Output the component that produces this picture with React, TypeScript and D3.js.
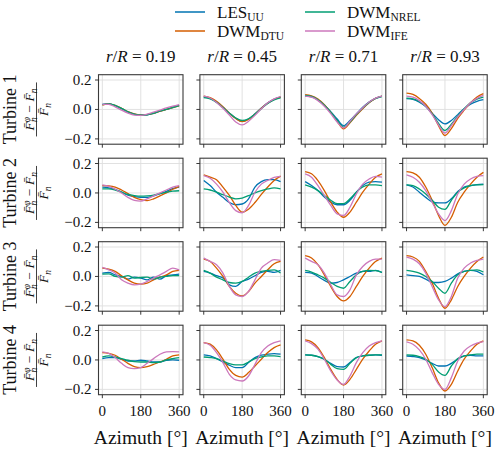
import { useEffect, useRef } from 'react';
import * as d3 from 'd3';

const azimuth = [0, 30, 60, 90, 120, 150, 180, 210, 240, 270, 300, 330, 360];
const radii = ['0.19', '0.45', '0.71', '0.93'];
const turbines = ['Turbine 1', 'Turbine 2', 'Turbine 3', 'Turbine 4'];
const xTicks = [0, 180, 360];
const yTicks = [-0.2, 0, 0.2];

// [turbine][radius][azimuth]
const lesUU = [
  [
    [0.035, 0.04, 0.025, 0.005, -0.018, -0.033, -0.038, -0.036, -0.025, -0.012, 0.0, 0.015, 0.028],
    [0.085, 0.075, 0.05, 0.015, -0.025, -0.06, -0.08, -0.065, -0.03, 0.01, 0.045, 0.07, 0.085],
    [0.09, 0.085, 0.065, 0.03, -0.015, -0.065, -0.11, -0.075, -0.03, 0.015, 0.05, 0.075, 0.09],
    [0.073, 0.068, 0.05, 0.02, -0.025, -0.07, -0.098, -0.075, -0.035, 0.005, 0.035, 0.055, 0.066],
  ],
  [
    [0.04, 0.035, 0.025, 0.005, -0.015, -0.025, -0.03, -0.03, -0.02, -0.005, 0.01, 0.03, 0.04],
    [0.085, 0.05, 0.005, -0.03, -0.065, -0.08, -0.075, -0.04, 0.04, 0.077, 0.09, 0.09, 0.077],
    [0.077, 0.05, 0.016, -0.028, -0.063, -0.08, -0.08, -0.05, 0.005, 0.05, 0.073, 0.077, 0.073],
    [0.055, 0.04, 0.005, -0.03, -0.06, -0.068, -0.068, -0.04, 0.01, 0.04, 0.05, 0.057, 0.06],
  ],
  [
    [0.023, 0.027, 0.011, 0.0, -0.018, -0.005, -0.011, -0.023, -0.005, -0.018, 0.005, 0.011, 0.016],
    [0.034, 0.023, 0.005, -0.011, -0.057, -0.068, -0.034, -0.018, 0.005, 0.027, 0.034, 0.027, 0.041],
    [0.027, 0.023, 0.0, -0.027, -0.045, -0.041, -0.023, 0.0, 0.023, 0.034, 0.034, 0.041, 0.027],
    [0.011, 0.005, 0.0, -0.018, -0.041, -0.041, -0.034, -0.011, 0.018, 0.034, 0.041, 0.034, 0.011],
  ],
  [
    [0.009, 0.016, 0.016, 0.005, -0.007, -0.007, -0.002, -0.007, -0.014, -0.014, -0.002, 0.0, -0.002],
    [0.034, 0.027, 0.009, -0.014, -0.036, -0.052, -0.052, -0.018, 0.016, 0.032, 0.039, 0.043, 0.039],
    [0.034, 0.032, 0.023, 0.005, -0.023, -0.045, -0.048, -0.018, 0.016, 0.027, 0.032, 0.034, 0.032],
    [0.027, 0.023, 0.016, 0.0, -0.023, -0.041, -0.041, -0.023, 0.005, 0.027, 0.032, 0.027, 0.027],
  ],
];

const dwmDTU = [
  [
    [0.03, 0.038, 0.028, 0.008, -0.015, -0.03, -0.036, -0.035, -0.027, -0.012, 0.0, 0.012, 0.025],
    [0.09, 0.08, 0.055, 0.018, -0.025, -0.062, -0.083, -0.068, -0.032, 0.008, 0.043, 0.068, 0.083],
    [0.1, 0.093, 0.07, 0.032, -0.02, -0.08, -0.132, -0.09, -0.04, 0.005, 0.045, 0.075, 0.09],
    [0.111, 0.102, 0.075, 0.035, -0.025, -0.11, -0.177, -0.13, -0.06, -0.005, 0.045, 0.085, 0.107],
  ],
  [
    [0.05, 0.048, 0.04, 0.02, -0.005, -0.03, -0.045, -0.052, -0.04, -0.02, 0.0, 0.025, 0.045],
    [0.123, 0.107, 0.09, 0.04, -0.017, -0.085, -0.13, -0.11, -0.065, -0.01, 0.04, 0.085, 0.114],
    [0.145, 0.13, 0.084, 0.016, -0.063, -0.13, -0.165, -0.13, -0.063, 0.005, 0.06, 0.107, 0.13],
    [0.145, 0.137, 0.107, 0.04, -0.05, -0.153, -0.22, -0.165, -0.063, 0.005, 0.06, 0.107, 0.14],
  ],
  [
    [0.057, 0.05, 0.034, 0.005, -0.023, -0.045, -0.052, -0.045, -0.023, -0.005, 0.011, 0.034, 0.041],
    [0.118, 0.102, 0.057, 0.0, -0.068, -0.114, -0.132, -0.102, -0.045, 0.0, 0.045, 0.086, 0.102],
    [0.141, 0.125, 0.08, 0.011, -0.068, -0.136, -0.166, -0.136, -0.068, 0.0, 0.057, 0.102, 0.125],
    [0.141, 0.132, 0.102, 0.034, -0.045, -0.148, -0.216, -0.159, -0.068, 0.0, 0.057, 0.102, 0.132],
  ],
  [
    [0.05, 0.045, 0.032, 0.005, -0.023, -0.045, -0.052, -0.045, -0.03, -0.014, 0.005, 0.027, 0.034],
    [0.118, 0.107, 0.068, 0.005, -0.064, -0.105, -0.116, -0.086, -0.041, 0.005, 0.05, 0.084, 0.102],
    [0.136, 0.123, 0.084, 0.016, -0.064, -0.132, -0.17, -0.132, -0.064, 0.005, 0.061, 0.107, 0.13],
    [0.136, 0.13, 0.1, 0.039, -0.052, -0.155, -0.211, -0.166, -0.075, 0.005, 0.061, 0.107, 0.13],
  ],
];

const dwmNREL = [
  [
    [0.032, 0.038, 0.027, 0.007, -0.016, -0.031, -0.037, -0.036, -0.026, -0.012, 0.0, 0.013, 0.026],
    [0.08, 0.072, 0.048, 0.013, -0.025, -0.058, -0.075, -0.063, -0.032, 0.005, 0.04, 0.065, 0.078],
    [0.095, 0.088, 0.065, 0.028, -0.02, -0.075, -0.12, -0.085, -0.035, 0.01, 0.048, 0.075, 0.088],
    [0.077, 0.072, 0.055, 0.022, -0.03, -0.095, -0.143, -0.1, -0.045, 0.005, 0.045, 0.07, 0.084],
  ],
  [
    [0.028, 0.028, 0.02, 0.005, -0.01, -0.018, -0.022, -0.02, -0.015, -0.005, 0.005, 0.012, 0.015],
    [0.027, 0.02, 0.005, -0.012, -0.028, -0.04, -0.035, -0.018, 0.0, 0.015, 0.027, 0.034, 0.027],
    [0.055, 0.04, 0.016, -0.017, -0.05, -0.073, -0.073, -0.04, 0.005, 0.04, 0.055, 0.055, 0.05],
    [0.055, 0.05, 0.027, -0.007, -0.05, -0.097, -0.112, -0.05, 0.005, 0.034, 0.05, 0.055, 0.057],
  ],
  [
    [0.016, 0.018, 0.0, -0.005, 0.005, -0.011, -0.007, -0.005, -0.018, -0.005, 0.0, 0.005, 0.005],
    [0.041, 0.023, -0.005, -0.023, -0.041, -0.045, -0.034, -0.005, 0.023, 0.034, 0.041, 0.045, 0.023],
    [0.041, 0.03, 0.011, -0.011, -0.041, -0.068, -0.08, -0.034, 0.011, 0.034, 0.041, 0.039, 0.027],
    [0.041, 0.034, 0.023, 0.0, -0.034, -0.08, -0.114, -0.045, 0.011, 0.034, 0.041, 0.045, 0.03],
  ],
  [
    [0.02, 0.027, 0.02, 0.009, -0.002, -0.011, -0.014, -0.014, -0.018, -0.014, 0.0, 0.009, 0.016],
    [0.02, 0.016, 0.009, -0.007, -0.025, -0.034, -0.034, -0.014, 0.009, 0.02, 0.027, 0.027, 0.023],
    [0.034, 0.032, 0.023, 0.005, -0.03, -0.059, -0.064, -0.023, 0.016, 0.027, 0.032, 0.034, 0.034],
    [0.034, 0.032, 0.023, 0.005, -0.03, -0.082, -0.105, -0.041, 0.009, 0.027, 0.034, 0.039, 0.039],
  ],
];

const dwmIFE = [
  [
    [0.035, 0.035, 0.018, -0.005, -0.025, -0.038, -0.04, -0.032, -0.018, -0.004, 0.01, 0.022, 0.033],
    [0.09, 0.078, 0.048, 0.008, -0.038, -0.085, -0.105, -0.08, -0.04, 0.005, 0.045, 0.072, 0.088],
    [0.09, 0.083, 0.06, 0.022, -0.028, -0.085, -0.125, -0.08, -0.03, 0.012, 0.05, 0.077, 0.09],
    [0.09, 0.083, 0.06, 0.022, -0.035, -0.105, -0.16, -0.11, -0.05, 0.0, 0.045, 0.075, 0.095],
  ],
  [
    [0.055, 0.045, 0.025, 0.0, -0.03, -0.05, -0.055, -0.04, -0.02, 0.0, 0.02, 0.04, 0.05],
    [0.118, 0.1, 0.06, 0.005, -0.065, -0.12, -0.135, -0.085, 0.005, 0.06, 0.085, 0.105, 0.112],
    [0.13, 0.107, 0.05, -0.017, -0.085, -0.142, -0.153, -0.097, -0.007, 0.06, 0.095, 0.113, 0.107],
    [0.123, 0.107, 0.073, 0.016, -0.063, -0.142, -0.188, -0.12, -0.007, 0.06, 0.095, 0.113, 0.118],
  ],
  [
    [0.061, 0.045, 0.023, -0.023, -0.045, -0.057, -0.052, -0.034, -0.011, 0.011, 0.034, 0.057, 0.045],
    [0.125, 0.102, 0.08, 0.023, -0.068, -0.125, -0.136, -0.102, -0.023, 0.057, 0.091, 0.114, 0.109],
    [0.125, 0.102, 0.08, 0.023, -0.057, -0.125, -0.136, -0.091, 0.011, 0.068, 0.102, 0.118, 0.118],
    [0.132, 0.118, 0.086, 0.023, -0.068, -0.159, -0.205, -0.136, -0.011, 0.057, 0.091, 0.109, 0.118],
  ],
  [
    [0.055, 0.045, 0.016, -0.023, -0.052, -0.059, -0.052, -0.023, 0.009, 0.039, 0.055, 0.057, 0.055],
    [0.118, 0.1, 0.05, -0.018, -0.098, -0.136, -0.143, -0.109, -0.03, 0.05, 0.095, 0.118, 0.13],
    [0.13, 0.111, 0.073, 0.005, -0.075, -0.136, -0.166, -0.109, -0.018, 0.05, 0.095, 0.118, 0.13],
    [0.123, 0.107, 0.068, 0.005, -0.086, -0.166, -0.2, -0.12, -0.007, 0.061, 0.095, 0.114, 0.125],
  ],
];

const modelos = [
  { base: 'LES', sub: 'UU', color: '#0173b2', data: lesUU },
  { base: 'DWM', sub: 'DTU', color: '#d55e00', data: dwmDTU },
  { base: 'DWM', sub: 'NREL', color: '#029e73', data: dwmNREL },
  { base: 'DWM', sub: 'IFE', color: '#cc78bc', data: dwmIFE },
];

const FONT = '"Liberation Serif", "DejaVu Serif", serif';

export default function App() {
  const ref = useRef<SVGSVGElement>(null);
  useEffect(() => {
    const width = 500, height = 451;
    const left0 = 98.5, colStep = 101.4, pw = 84.5;
    const top0 = 74.7, rowStep = 83.5, ph = 69.5;
    const svg = d3.select(ref.current);
    svg.selectAll('*').remove();
    svg.attr('width', width).attr('height', height).style('font-family', FONT);

    const x = d3.scaleLinear().domain([-18, 378]).range([0, pw]);
    const y = d3.scaleLinear().domain([-0.236, 0.236]).range([ph, 0]);
    const line = d3.line<number>()
      .x((_, i) => x(azimuth[i]))
      .y(d => y(d))
      .curve(d3.curveMonotoneX);

    // Leyenda
    const leg = svg.append('g');
    modelos.forEach((m, i) => {
      const col = Math.floor(i / 2), row = i % 2;
      const lx = 175 + col * 130, ly = 12 + row * 19;
      leg.append('line')
        .attr('x1', lx).attr('x2', lx + 30).attr('y1', ly).attr('y2', ly)
        .attr('stroke', m.color).attr('stroke-width', 1.5);
      const t = leg.append('text')
        .attr('x', lx + 42).attr('y', ly + 6)
        .attr('font-size', 17).attr('fill', '#111');
      t.append('tspan').text(m.base);
      t.append('tspan').attr('font-size', 11.5).attr('dy', 3).text(m.sub);
    });

    for (let r = 0; r < 4; r++) {
      for (let c = 0; c < 4; c++) {
        const g = svg.append('g')
          .attr('transform', `translate(${left0 + c * colStep},${top0 + r * rowStep})`);
        g.append('rect').attr('width', pw).attr('height', ph).attr('fill', '#fff');
        // Rejilla
        g.selectAll('.gx').data(xTicks).join('line')
          .attr('x1', d => x(d)).attr('x2', d => x(d)).attr('y1', 0).attr('y2', ph)
          .attr('stroke', '#dedede').attr('stroke-width', 0.9);
        g.selectAll('.gy').data(yTicks).join('line')
          .attr('class', 'gy')
          .attr('x1', 0).attr('x2', pw).attr('y1', d => y(d)).attr('y2', d => y(d))
          .attr('stroke', '#dedede').attr('stroke-width', 0.9);
        // Curvas
        const clipId = `clip-${r}-${c}`;
        g.append('clipPath').attr('id', clipId)
          .append('rect').attr('width', pw).attr('height', ph);
        const lines = g.append('g').attr('clip-path', `url(#${clipId})`);
        modelos.forEach(m => {
          lines.append('path')
            .attr('d', line(m.data[r][c]))
            .attr('fill', 'none')
            .attr('stroke', m.color)
            .attr('stroke-width', 1.3)
            .attr('stroke-linejoin', 'round');
        });
        // Marco
        g.append('rect').attr('width', pw).attr('height', ph)
          .attr('fill', 'none').attr('stroke', '#3a3a3a').attr('stroke-width', 1.1);
        // Ticks
        g.selectAll('.tx').data(xTicks).join('line')
          .attr('x1', d => x(d)).attr('x2', d => x(d)).attr('y1', ph).attr('y2', ph + 3.5)
          .attr('stroke', '#222').attr('stroke-width', 0.9);
        g.selectAll('.ty').data(yTicks).join('line')
          .attr('class', 'ty')
          .attr('x1', -3.5).attr('x2', 0).attr('y1', d => y(d)).attr('y2', d => y(d))
          .attr('stroke', '#222').attr('stroke-width', 0.9);

        if (c === 0) {
          g.selectAll('.yl').data(yTicks).join('text')
            .attr('class', 'yl')
            .attr('x', -7).attr('y', d => y(d) + 5)
            .attr('text-anchor', 'end').attr('font-size', 15).attr('fill', '#111')
            .text(d => (d < 0 ? '\u2212' : '') + Math.abs(d).toFixed(1));
        }
        if (r === 3) {
          g.selectAll('.xl').data(xTicks).join('text')
            .attr('class', 'xl')
            .attr('x', d => x(d)).attr('y', ph + 21)
            .attr('text-anchor', 'middle').attr('font-size', 15).attr('fill', '#111')
            .text(d => d);
          g.append('text')
            .attr('x', pw / 2).attr('y', ph + 49)
            .attr('text-anchor', 'middle').attr('font-size', 19.5).attr('fill', '#111')
            .text('Azimuth [°]');
        }
        if (r === 0) {
          const t = g.append('text')
            .attr('x', pw / 2).attr('y', -13)
            .attr('text-anchor', 'middle').attr('font-size', 17).attr('fill', '#111');
          t.append('tspan').attr('font-style', 'italic').text('r');
          t.append('tspan').text('/');
          t.append('tspan').attr('font-style', 'italic').text('R');
          t.append('tspan').text(` = ${radii[c]}`);
        }
        if (c === 0) {
          // Etiqueta de fila
          const cy = ph / 2;
          g.append('text')
            .attr('transform', `translate(${-83},${cy}) rotate(-90)`)
            .attr('text-anchor', 'middle').attr('font-size', 18).attr('fill', '#111')
            .text(turbines[r]);
          const fr = g.append('g').attr('transform', `translate(${-62},${cy}) rotate(-90)`);
          const num = fr.append('text')
            .attr('x', 0).attr('y', -2.5)
            .attr('text-anchor', 'middle').attr('font-size', 13.5).attr('font-style', 'italic').attr('fill', '#111');
          num.append('tspan').text('F\u0304');
          num.append('tspan').attr('font-size', 9.5).attr('dy', -4).text('φ');
          num.append('tspan').attr('font-size', 9.5).attr('dx', -5).attr('dy', 7).text('n');
          num.append('tspan').attr('dy', -3).text(' \u2212 F\u0304');
          num.append('tspan').attr('font-size', 9.5).attr('dy', 3).text('n');
          fr.append('line')
            .attr('x1', -27).attr('x2', 27).attr('y1', 0).attr('y2', 0)
            .attr('stroke', '#111').attr('stroke-width', 0.8);
          const den = fr.append('text')
            .attr('x', 0).attr('y', 11.5)
            .attr('text-anchor', 'middle').attr('font-size', 13.5).attr('font-style', 'italic').attr('fill', '#111');
          den.append('tspan').text('F\u0304');
          den.append('tspan').attr('font-size', 9.5).attr('dy', 3).text('n');
        }
      }
    }
  }, []);

  return (
    <svg ref={ref} width={500} height={451} style={{ position: 'absolute', left: 0, top: 0, background: '#fff' }} />
  );
}
